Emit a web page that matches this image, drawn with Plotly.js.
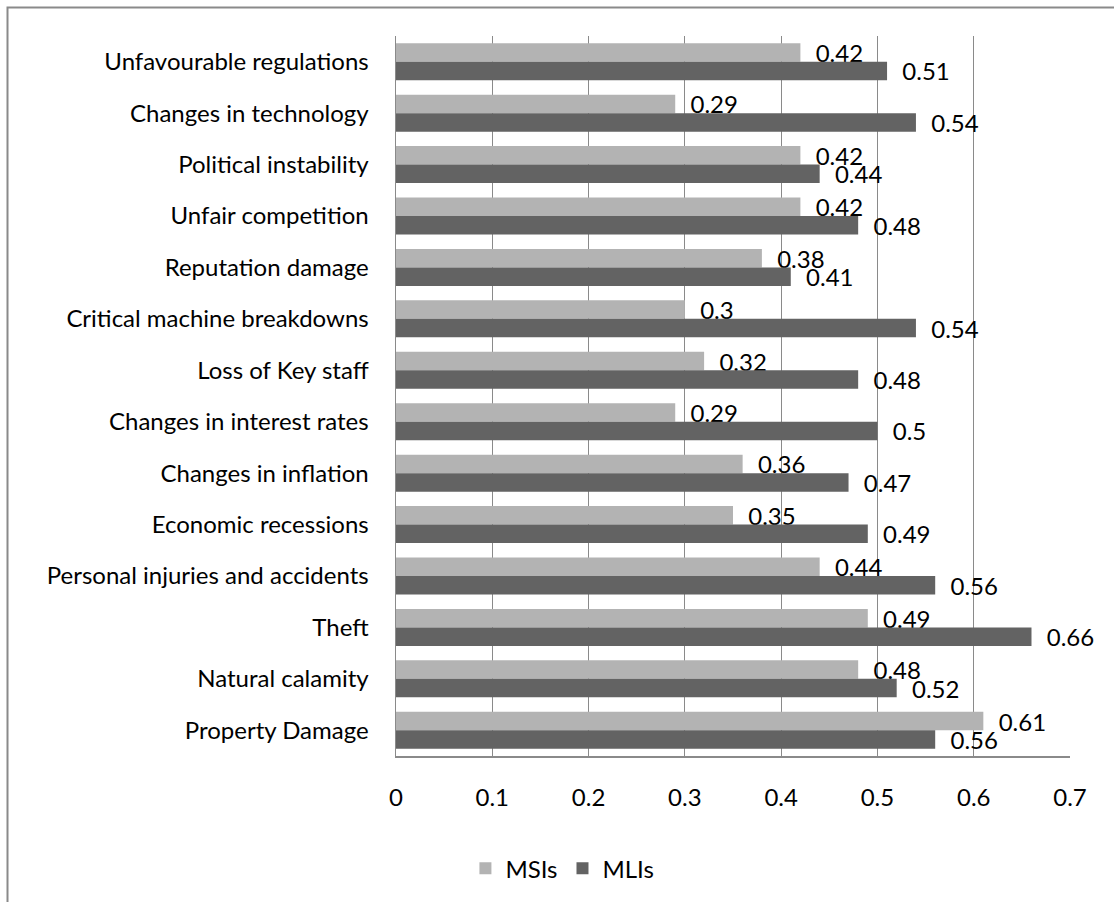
<!DOCTYPE html>
<html>
<head>
<meta charset="utf-8">
<script src="https://cdn.plot.ly/plotly-3.0.1.min.js"></script>
<style>
  html, body { margin: 0; padding: 0; background: #ffffff; }
  #chart { width: 1114px; height: 902px; }
</style>
</head>
<body>
<div id="chart"></div>
<script>
// Risk categories, listed top to bottom
const categories = [
  "Unfavourable regulations",
  "Changes in technology",
  "Political instability",
  "Unfair competition",
  "Reputation damage",
  "Critical machine breakdowns",
  "Loss of Key staff",
  "Changes in interest rates",
  "Changes in inflation",
  "Economic recessions",
  "Personal injuries and accidents",
  "Theft",
  "Natural calamity",
  "Property Damage"
];

// Mean scores per institution group
const msiValues = [0.42, 0.29, 0.42, 0.42, 0.38, 0.3, 0.32, 0.29, 0.36, 0.35, 0.44, 0.49, 0.48, 0.61];
const mliValues = [0.51, 0.54, 0.44, 0.48, 0.41, 0.54, 0.48, 0.5, 0.47, 0.49, 0.56, 0.66, 0.52, 0.56];

const xTicks = [0, 0.1, 0.2, 0.3, 0.4, 0.5, 0.6, 0.7];

const FONT = "Lato, 'Open Sans', sans-serif";
const GRID = "#8a8a8a";
const PAD = "\u00a0\u00a0";

function barTrace(name, values, color) {
  return {
    type: "bar",
    orientation: "h",
    name: name,
    y: categories,
    x: values,
    marker: { color: color, line: { width: 0 } },
    text: values.map(String),
    texttemplate: PAD + "%{text}",
    textposition: "outside",
    constraintext: "none",
    cliponaxis: false,
    outsidetextfont: { family: FONT, size: 24, color: "#000000" },
    hoverinfo: "x+y"
  };
}

const data = [
  barTrace("MSIs", msiValues, "#b3b3b3"),
  barTrace("MLIs", mliValues, "#636363")
];

const layout = {
  width: 1114,
  height: 902,
  margin: { l: 396, r: 44, t: 36, b: 145, pad: 0 },
  paper_bgcolor: "#ffffff",
  plot_bgcolor: "#ffffff",
  font: { family: FONT, size: 24, color: "#000000" },
  barmode: "group",
  bargap: 0.28,
  bargroupgap: 0,
  showlegend: true,
  legend: {
    orientation: "h",
    x: 0.103,
    xanchor: "left",
    y: -0.155,
    yanchor: "middle",
    font: { family: FONT, size: 24, color: "#000000" },
    itemwidth: 30,
    tracegroupgap: 0
  },
  xaxis: {
    range: [0, 0.7],
    tickvals: xTicks,
    ticktext: xTicks.map(String),
    showgrid: true,
    gridcolor: GRID,
    gridwidth: 1,
    zeroline: false,
    showline: true,
    linecolor: GRID,
    linewidth: 1.5,
    ticks: "outside",
    ticklen: 20,
    tickcolor: "rgba(0,0,0,0)",
    tickfont: { family: FONT, size: 24, color: "#000000" },
    fixedrange: true
  },
  yaxis: {
    autorange: "reversed",
    type: "category",
    showgrid: false,
    zeroline: false,
    showline: true,
    linecolor: GRID,
    linewidth: 1.5,
    ticks: "outside",
    ticklen: 21,
    tickcolor: "rgba(0,0,0,0)",
    tickfont: { family: FONT, size: 24, color: "#000000" },
    fixedrange: true
  },
  shapes: [
    {
      // chart frame, open at the right and bottom edges
      type: "rect",
      xref: "paper",
      yref: "paper",
      x0: (7.5 - 396) / 674,
      x1: 1.3,
      y0: -0.35,
      y1: (757 - 7.5) / 721,
      line: { color: "#8a8a8a", width: 2 },
      fillcolor: "rgba(0,0,0,0)",
      layer: "below"
    }
  ]
};

Plotly.newPlot("chart", data, layout, { displayModeBar: false, staticPlot: true });
</script>
</body>
</html>
